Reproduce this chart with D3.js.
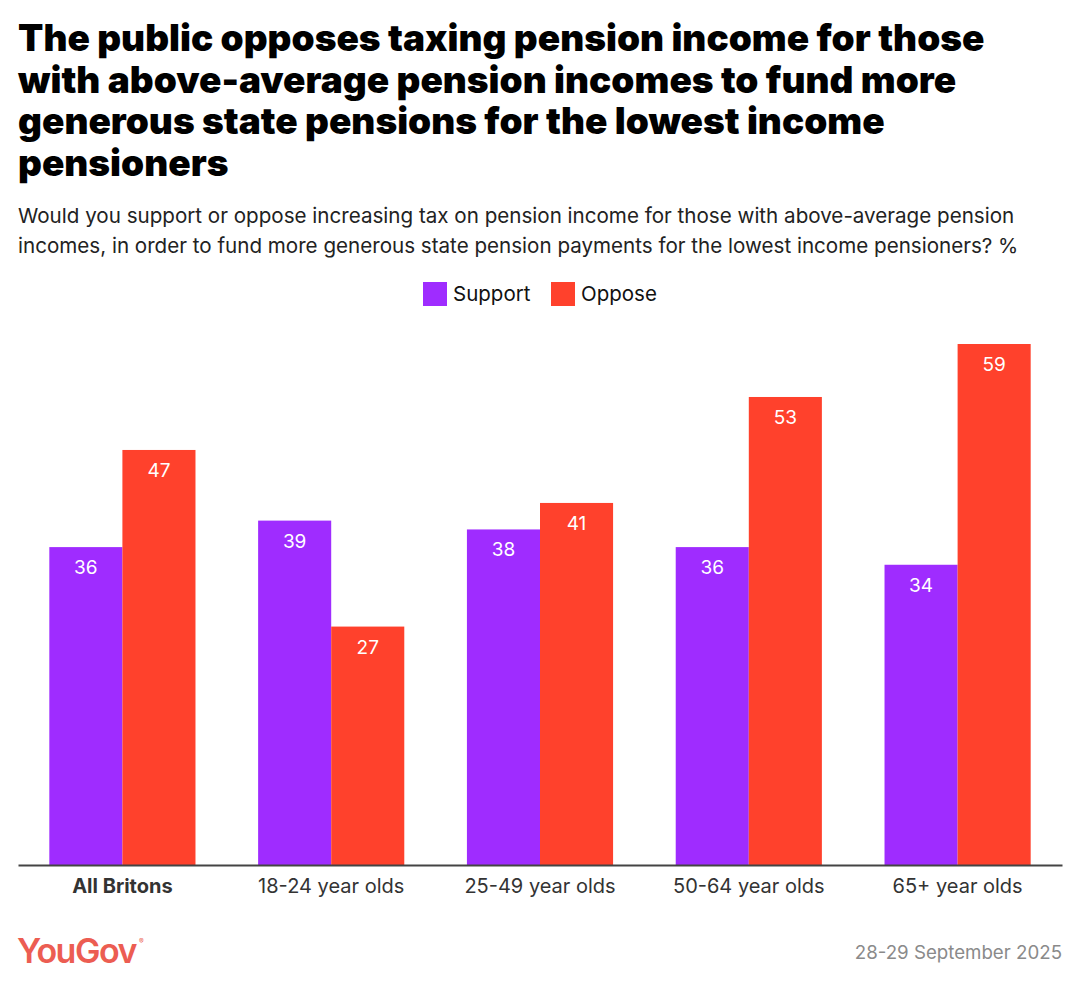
<!DOCTYPE html>
<html lang="en">
<head>
<meta charset="UTF-8" />
<script src="https://d3js.org/d3.v7.min.js"></script>
<title>Pension tax</title>
<style>
  body { margin: 0; background: #fff; }
  text { font-family: Inter, "Noto Sans", sans-serif; }
</style>
</head>
<body>
<script>
var categories = ["All Britons", "18-24 year olds", "25-49 year olds", "50-64 year olds", "65+ year olds"];
var series = ["Support", "Oppose"];
var support = [36, 39, 38, 36, 34];
var oppose = [47, 27, 41, 53, 59];
var titleLines = [
  "The public opposes taxing pension income for those",
  "with above-average pension incomes to fund more",
  "generous state pensions for the lowest income",
  "pensioners"
];
var subtitleLines = [
  "Would you support or oppose increasing tax on pension income for those with above-average pension",
  "incomes, in order to fund more generous state pension payments for the lowest income pensioners? %"
];

var width = 1080, height = 987;
var colors = { Support: "#9f2cff", Oppose: "#ff412c" };

var svg = d3.select("body").append("svg").attr("width", width).attr("height", height);

// title + subtitle
svg.append("g").selectAll("text").data(titleLines).enter().append("text")
  .attr("x", 18).attr("y", function(d, i) { return 51 + i * 41.5; })
  .attr("font-size", 37).attr("font-weight", 900).attr("fill", "#000")
  .text(function(d) { return d; });

svg.append("g").selectAll("text").data(subtitleLines).enter().append("text")
  .attr("x", 18).attr("y", function(d, i) { return 223 + i * 30; })
  .attr("font-size", 20.6).attr("fill", "#222")
  .text(function(d) { return d; });

// legend
var legend = svg.append("g");
var lx = [423, 551];
series.forEach(function(s, i) {
  legend.append("rect").attr("x", lx[i]).attr("y", 282).attr("width", 24).attr("height", 24).attr("fill", colors[s]);
  legend.append("text").attr("x", lx[i] + 30).attr("y", 301).attr("font-size", 20.5).attr("fill", "#111").text(s);
});

// scales
var x0 = d3.scaleBand().domain(categories).range([18, 1062]).paddingInner(0.3).paddingOuter(0.15);
var x1 = d3.scaleBand().domain(series).range([0, x0.bandwidth()]);
var y = d3.scaleLinear().domain([0, 59]).range([865, 344]);

var rows = categories.map(function(c, i) {
  return { cat: c, values: [{ key: "Support", v: support[i] }, { key: "Oppose", v: oppose[i] }] };
});

var groups = svg.append("g").selectAll("g").data(rows).enter().append("g")
  .attr("transform", function(d) { return "translate(" + x0(d.cat) + ",0)"; });

groups.selectAll("rect").data(function(d) { return d.values; }).enter().append("rect")
  .attr("x", function(d) { return x1(d.key); })
  .attr("y", function(d) { return y(d.v); })
  .attr("width", x1.bandwidth())
  .attr("height", function(d) { return y(0) - y(d.v); })
  .attr("fill", function(d) { return colors[d.key]; });

groups.selectAll("text").data(function(d) { return d.values; }).enter().append("text")
  .attr("x", function(d) { return x1(d.key) + x1.bandwidth() / 2; })
  .attr("y", function(d) { return y(d.v) + 27; })
  .attr("text-anchor", "middle").attr("font-size", 19).attr("fill", "#fff")
  .text(function(d) { return d.v; });

// x axis
var xAxis = svg.append("g").attr("transform", "translate(0,865)")
  .call(d3.axisBottom(x0).tickSize(0).tickPadding(14));
xAxis.select(".domain").attr("stroke", "#444").attr("stroke-width", 2);
xAxis.selectAll("text")
  .attr("font-size", 20).attr("fill", "#333")
  .attr("font-family", "Inter, sans-serif")
  .attr("font-weight", function(d) { return d === "All Britons" ? 700 : 400; });

// footer
svg.append("text").attr("x", 17).attr("y", 963)
  .attr("font-size", 34).attr("font-weight", 600).attr("letter-spacing", -1.5)
  .attr("font-family", "'Liberation Sans Narrow', 'Roboto', sans-serif")
  .attr("fill", "#ec5d52").text("YouGov");
svg.append("text").attr("x", 139).attr("y", 944).attr("font-size", 7).attr("fill", "#ec5d52").text("®");
svg.append("text").attr("x", 1062).attr("y", 959).attr("text-anchor", "end")
  .attr("font-size", 18.7).attr("fill", "#8a8a8a").text("28-29 September 2025");
</script>
</body>
</html>
